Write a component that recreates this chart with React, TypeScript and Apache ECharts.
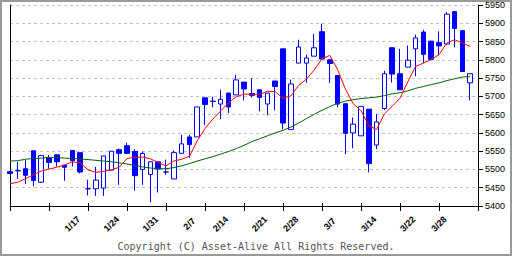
import React, { useEffect, useRef } from "react";
import * as echarts from "echarts";

const dates = [
  "1/4","1/5","1/6","1/7","1/11","1/12","1/13","1/14","1/17","1/18",
  "1/19","1/20","1/21","1/24","1/25","1/26","1/27","1/28","1/31","2/1",
  "2/2","2/3","2/4","2/7","2/8","2/9","2/10","2/14","2/15","2/16",
  "2/17","2/18","2/21","2/22","2/24","2/25","2/28","3/1","3/2","3/3",
  "3/4","3/7","3/8","3/9","3/10","3/11","3/14","3/15","3/16","3/17",
  "3/18","3/22","3/23","3/24","3/25","3/28","3/29","3/30","3/31","4/1",
  "4/4",
];
const labelDates = ["1/17","1/24","1/31","2/7","2/14","2/21","2/28","3/7","3/14","3/22","3/28"];

const opens = [
  5494,5497,5502,5551,5465,5532,5540,5512,5552,5546,
  5447,5447,5449,5498,5554,5565,5549,5500,5486,5521,
  5493,5474,5544,5589,5589,5696,5687,5679,5709,5704,
  5739,5708,5718,5679,5742,5830,5609,5791,5791,5810,
  5877,5800,5757,5680,5600,5592,5665,5567,5667,5833,
  5762,5780,5830,5876,5851,5847,5843,5932,5880,5737,
];
const closes = [
  5489,5496,5484,5470,5538,5519,5521,5506,5524,5493,
  5447,5471,5537,5550,5544,5544,5483,5544,5521,5501,
  5493,5546,5570,5568,5671,5678,5686,5692,5671,5745,
  5720,5703,5697,5709,5727,5627,5734,5835,5805,5833,
  5802,5790,5679,5599,5624,5672,5516,5630,5762,5761,
  5718,5799,5860,5815,5801,5838,5925,5886,5768,5762,
];
const lows = [
  5488,5474,5460,5454,5463,5502,5508,5469,5508,5489,
  5429,5428,5428,5498,5458,5543,5442,5458,5410,5437,
  5485,5474,5544,5532,5589,5621,5670,5638,5654,5704,
  5689,5697,5659,5648,5662,5610,5609,5791,5737,5810,
  5802,5737,5670,5542,5558,5592,5492,5556,5663,5738,
  5718,5780,5755,5791,5800,5813,5843,5834,5768,5689,
];
const highs = [
  5495,5521,5525,5551,5540,5540,5541,5512,5552,5546,
  5472,5507,5537,5550,5557,5573,5555,5549,5521,5521,
  5527,5552,5595,5595,5671,5696,5699,5718,5709,5759,
  5739,5750,5718,5709,5742,5830,5746,5855,5814,5871,
  5899,5800,5757,5680,5642,5672,5665,5652,5770,5833,
  5830,5839,5869,5882,5852,5878,5931,5932,5880,5762,
];
const ma5 = [
  5461,5465,5475,5485,5496,5501,5506,5512,5521,5518,
  5499,5492,5495,5499,5506,5530,5533,5534,5529,5519,
  5510,5523,5528,5536,5578,5612,5638,5660,5682,5699,
  5706,5706,5705,5714,5713,5695,5701,5730,5747,5772,
  5803,5812,5773,5720,5680,5661,5620,5609,5652,5673,
  5695,5740,5782,5791,5801,5814,5846,5855,5846,5837,
];
const ma25 = [
  5523,5524,5528,5530,5531,5533,5533,5531,5530,5529,
  5527,5525,5523,5521,5518,5515,5511,5507,5504,5502,
  5502,5505,5510,5516,5523,5529,5535,5542,5549,5557,
  5566,5576,5584,5592,5600,5607,5616,5627,5639,5651,
  5662,5672,5681,5687,5691,5694,5696,5698,5702,5707,
  5710,5715,5722,5727,5732,5737,5743,5748,5753,5754,
];

const yMin = 5400;
const yMax = 5950;
const yStep = 50;

export default function App() {
  const ref = useRef<HTMLDivElement>(null);
  useEffect(() => {
    if (!ref.current) return;
    const chart = echarts.init(ref.current, undefined, { renderer: "svg" });
    const candles = opens.map((o, i) => [o, closes[i], lows[i], highs[i]]);
    const tickFn = (i: number) => i % 5 === 0;
    chart.setOption({
      animation: false,
      backgroundColor: "#ffffff",
      grid: { left: 10, right: 34, top: 5, bottom: 50, containLabel: false },
      xAxis: [
        {
          type: "category",
          data: dates,
          boundaryGap: false,
          position: "bottom",
          axisLine: { show: true, lineStyle: { color: "#000", width: 1 } },
          axisTick: { show: true, interval: tickFn, length: 5, lineStyle: { color: "#000" } },
          axisLabel: {
            show: true,
            interval: (i: number, v: string) => labelDates.includes(v),
            rotate: 45,
            align: "center",
            verticalAlign: "middle",
            margin: 18,
            color: "#000",
            fontFamily: "Liberation Sans",
            fontSize: 9,
            fontWeight: "bold",
          },
          splitLine: { show: false },
        },
        {
          type: "category",
          data: dates,
          boundaryGap: false,
          position: "bottom",
          axisLine: { show: false },
          axisTick: { show: true, inside: true, interval: tickFn, length: 3, lineStyle: { color: "#000" } },
          axisLabel: { show: false },
          splitLine: { show: false },
        },
      ],
      yAxis: [
        {
          type: "value",
          position: "right",
          min: yMin,
          max: yMax,
          interval: yStep,
          axisLine: { show: true, lineStyle: { color: "#000", width: 1 } },
          axisTick: { show: true, length: 5, lineStyle: { color: "#000" } },
          axisLabel: {
            margin: 7,
            color: "#000",
            fontFamily: "Liberation Sans",
            fontSize: 9,
            formatter: (v: number) => String(v),
          },
          splitLine: { show: true, lineStyle: { color: "#c4c4c4", type: [3, 3], width: 1 } },
        },
        {
          type: "value",
          position: "left",
          min: yMin,
          max: yMax,
          interval: yStep,
          axisLine: { show: true, lineStyle: { color: "#000", width: 1 } },
          axisTick: { show: false },
          axisLabel: { show: false },
          splitLine: { show: false },
        },
      ],
      series: [
        {
          type: "candlestick",
          xAxisIndex: 0,
          yAxisIndex: 0,
          data: candles,
          barWidth: 5,
          itemStyle: {
            color: "#ffffff",
            color0: "#0000ff",
            borderColor: "#0000ff",
            borderColor0: "#0000ff",
            borderWidth: 1,
          },
        },
        {
          type: "line",
          xAxisIndex: 0,
          yAxisIndex: 0,
          data: ma25,
          showSymbol: false,
          symbol: "none",
          lineStyle: { color: "#006400", width: 1 },
          z: 3,
        },
        {
          type: "line",
          xAxisIndex: 0,
          yAxisIndex: 0,
          data: ma5,
          showSymbol: false,
          symbol: "none",
          lineStyle: { color: "#ff0000", width: 1 },
          z: 4,
        },
      ],
      graphic: [
        {
          type: "rect",
          shape: { x: 1, y: 1, width: 510, height: 254 },
          style: { fill: "none", stroke: "#999999", lineWidth: 2 },
          silent: true,
        },
        {
          type: "text",
          x: 256,
          y: 246,
          style: {
            text: "Copyright (C) Asset-Alive All Rights Reserved.",
            fill: "#555555",
            font: "10px 'DejaVu Sans Mono'",
            textAlign: "center",
            textVerticalAlign: "middle",
          },
          silent: true,
        },
      ],
    });
    return () => chart.dispose();
  }, []);
  return (
    <div
      ref={ref}
      style={{ position: "fixed", left: 0, top: 0, width: 512, height: 256 }}
    />
  );
}
